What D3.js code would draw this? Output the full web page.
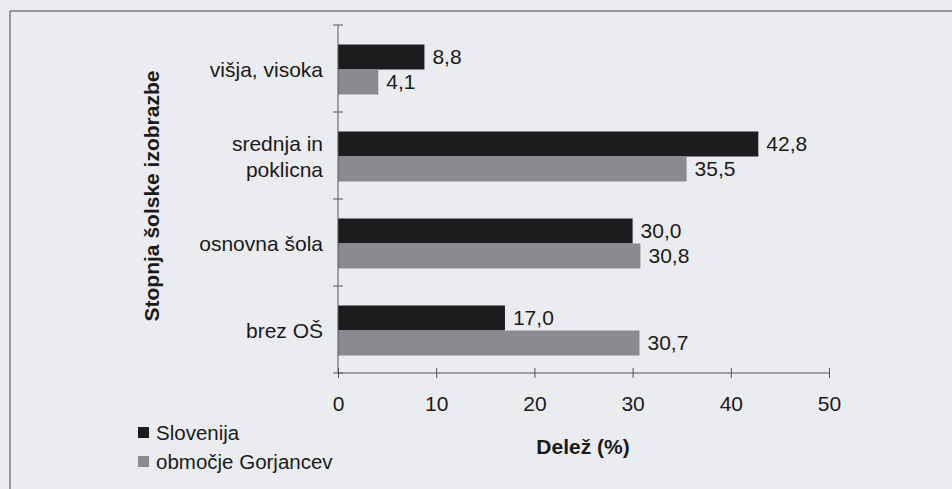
<!DOCTYPE html>
<html>
<head>
<meta charset="utf-8">
<script src="https://cdn.jsdelivr.net/npm/d3@7"></script>
<style>
  body { margin: 0; background: #ebecf0; }
  svg { display: block; font-family: "Liberation Sans", Arial, sans-serif; }
</style>
</head>
<body>
<svg id="chart" width="952" height="489"></svg>
<script>
// education levels, top to bottom
const categories = ['višja, visoka', 'srednja in poklicna', 'osnovna šola', 'brez OŠ'];
const categoryLines = [['višja, visoka'], ['srednja in', 'poklicna'], ['osnovna šola'], ['brez OŠ']];
const seriesNames = ['Slovenija', 'območje Gorjancev'];
const slovenija = [8.8, 42.8, 30.0, 17.0];
const gorjanci = [4.1, 35.5, 30.8, 30.7];
const xTicks = [0, 10, 20, 30, 40, 50];

const colors = ['#1c1c1e', '#8b8b8f'];
const fmt = v => v.toFixed(1).replace('.', ',');

const svg = d3.select('#chart');

// scanned page frame
svg.append('line').attr('x1', 10).attr('x2', 952).attr('y1', 11).attr('y2', 11)
   .attr('stroke', '#7c7d84').attr('stroke-width', 1.5);
svg.append('line').attr('x1', 10).attr('x2', 10).attr('y1', 11).attr('y2', 489)
   .attr('stroke', '#7c7d84').attr('stroke-width', 1.5);

const x = d3.scaleLinear().domain([0, 50]).range([338, 829]);
const y = d3.scaleBand().domain(categories).range([25, 373]);
const inner = d3.scaleBand().domain(seriesNames).range([0, 50]);

// bars
const rows = categories.map((c, i) => ({ c, vals: [slovenija[i], gorjanci[i]] }));
const g = svg.append('g');
rows.forEach(r => {
  const top = y(r.c) + (y.bandwidth() - 50) / 2 + 1;
  r.vals.forEach((v, k) => {
    const s = seriesNames[k];
    g.append('rect')
      .attr('x', x(0)).attr('y', top + inner(s))
      .attr('width', x(v) - x(0)).attr('height', inner.bandwidth())
      .attr('fill', colors[k]);
    g.append('text')
      .attr('x', x(v) + 8).attr('y', top + inner(s) + inner.bandwidth() / 2)
      .attr('dy', '0.35em')
      .attr('font-size', 21).attr('fill', '#1a1a1a')
      .text(fmt(v));
  });
});

// x axis
const xAxis = svg.append('g').attr('transform', 'translate(0,373)')
  .call(d3.axisBottom(x).tickValues(xTicks).tickSize(6).tickFormat(d3.format('d')));
xAxis.select('.domain').attr('stroke', '#55565c').attr('d', 'M338,0H829');
xAxis.selectAll('.tick line').attr('stroke', '#55565c').attr('y1', -5).attr('y2', 5);
xAxis.selectAll('.tick text').attr('y', 23).attr('font-size', 21)
  .attr('font-family', '"Liberation Sans", Arial, sans-serif').attr('fill', '#1a1a1a');

// y axis line with ticks between categories
const yAxis = svg.append('g').attr('transform', 'translate(338,0)');
yAxis.append('line').attr('x1', 0).attr('x2', 0).attr('y1', 25).attr('y2', 373)
  .attr('stroke', '#55565c');
const bounds = categories.map(c => y(c)).concat([373]);
yAxis.selectAll('line.tk').data(bounds).join('line').attr('class', 'tk')
  .attr('x1', -5).attr('x2', 5).attr('y1', d => d).attr('y2', d => d)
  .attr('stroke', '#55565c');

// category labels
categories.forEach((c, i) => {
  const lines = categoryLines[i];
  const cy = y(c) + y.bandwidth() / 2 + 1;
  const t = svg.append('text').attr('text-anchor', 'end').attr('font-size', 21)
    .attr('fill', '#1a1a1a');
  lines.forEach((ln, j) => {
    t.append('tspan').attr('x', 323)
      .attr('y', cy + (j - (lines.length - 1) / 2) * 26)
      .attr('dy', '0.35em').text(ln);
  });
});

// axis titles
svg.append('text').attr('transform', 'translate(152,196) rotate(-90)')
  .attr('text-anchor', 'middle').attr('font-size', 21).attr('font-weight', 'bold')
  .attr('dy', '0.35em').attr('fill', '#1a1a1a')
  .text('Stopnja šolske izobrazbe');
svg.append('text').attr('x', 583).attr('y', 447).attr('dy', '0.35em')
  .attr('text-anchor', 'middle').attr('font-size', 21).attr('font-weight', 'bold')
  .attr('fill', '#1a1a1a').text('Delež (%)');

// legend
seriesNames.forEach((s, k) => {
  const ly = 433 + k * 29;
  svg.append('rect').attr('x', 138).attr('y', ly - 6).attr('width', 11).attr('height', 11)
    .attr('fill', colors[k]);
  svg.append('text').attr('x', 156).attr('y', ly).attr('dy', '0.35em')
    .attr('font-size', 20.5).attr('fill', '#1a1a1a').text(s);
});
</script>
</body>
</html>
